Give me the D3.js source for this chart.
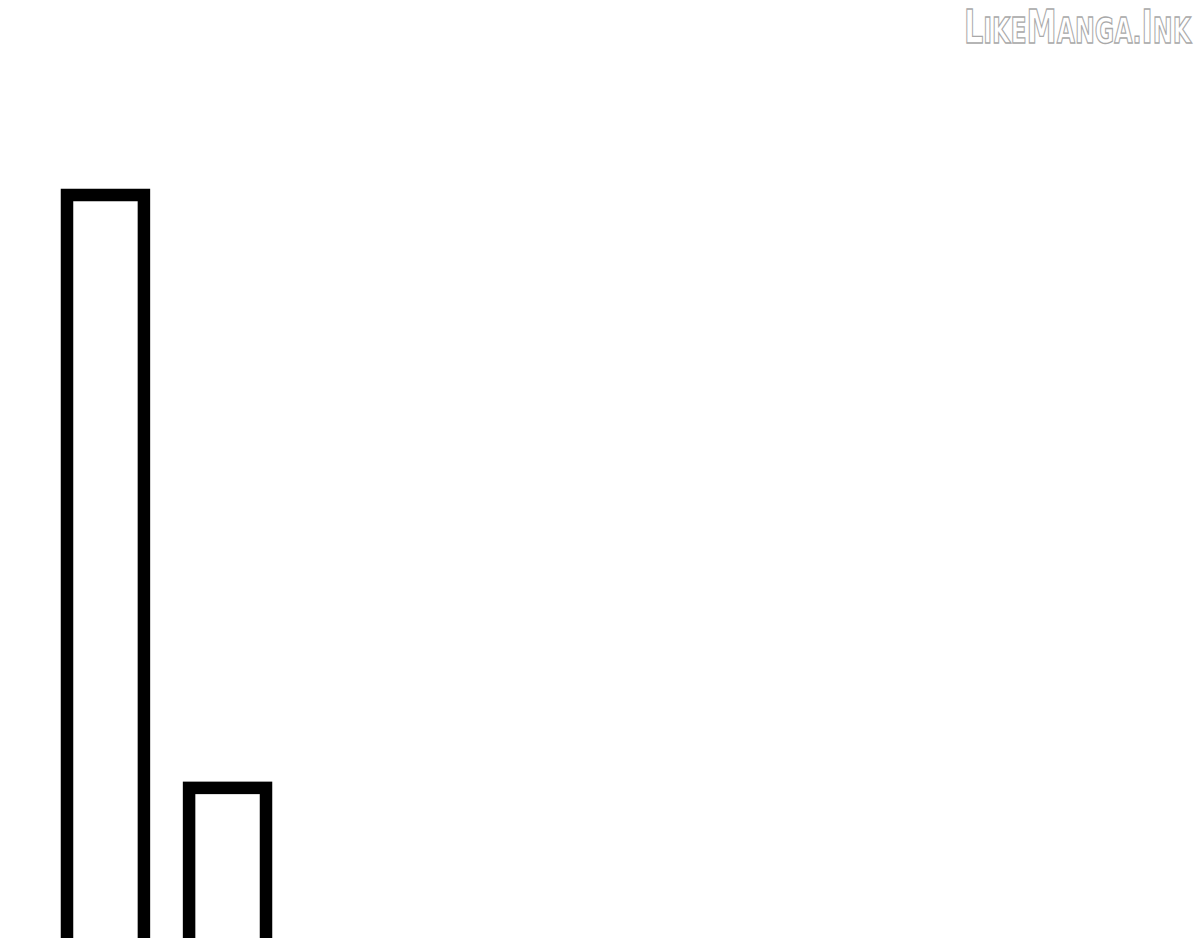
<!DOCTYPE html>
<html>
<head>
<meta charset="utf-8">
<script src="https://cdn.jsdelivr.net/npm/d3@7"></script>
<style>
  body { margin: 0; background: #fff; }
  svg { display: block; }
</style>
</head>
<body>
<svg id="chart" width="1200" height="938"></svg>
<script>
// data
const categories = ['a', 'b'];
const values = [100, 22.5];

const svg = d3.select('#chart');
const W = 1200, H = 938;

svg.append('rect').attr('width', W).attr('height', H).attr('fill', '#fff');

const x = d3.scaleBand()
  .domain(categories)
  .range([67, 266])
  .paddingInner(0.37)
  .paddingOuter(0);

const y = d3.scaleLinear()
  .domain([0, 100])
  .range([960, 195]);

// bars (outline only, running off the bottom)
svg.selectAll('rect.bar')
  .data(values)
  .join('rect')
  .attr('class', 'bar')
  .attr('x', (d, i) => x(categories[i]))
  .attr('y', d => y(d))
  .attr('width', x.bandwidth())
  .attr('height', d => y(0) - y(d))
  .attr('fill', 'none')
  .attr('stroke', '#000')
  .attr('stroke-width', 12.5);

// watermark, squeezed horizontally to fit the corner
const wmG = svg.append('g');

const wm = wmG.append('text')
  .attr('x', 0)
  .attr('y', 0)
  .attr('font-family', 'DejaVu Sans Condensed, DejaVu Sans')
  .attr('font-weight', 'bold')
  .attr('fill', '#fff')
  .attr('stroke', '#a8a8a8')
  .attr('stroke-width', 1.3);

const parts = [
  ['L', 46], ['IKE', 36], ['M', 46], ['ANGA', 36], ['.', 36], ['I', 46], ['NK', 36]
];
parts.forEach(p => {
  wm.append('tspan').text(p[0]).attr('font-size', p[1] + 'px');
});

// fit to the reference width
const bw = wm.node().getBBox().width;
wmG.attr('transform', `translate(964,43) scale(${229 / bw},1)`);
</script>
</body>
</html>
